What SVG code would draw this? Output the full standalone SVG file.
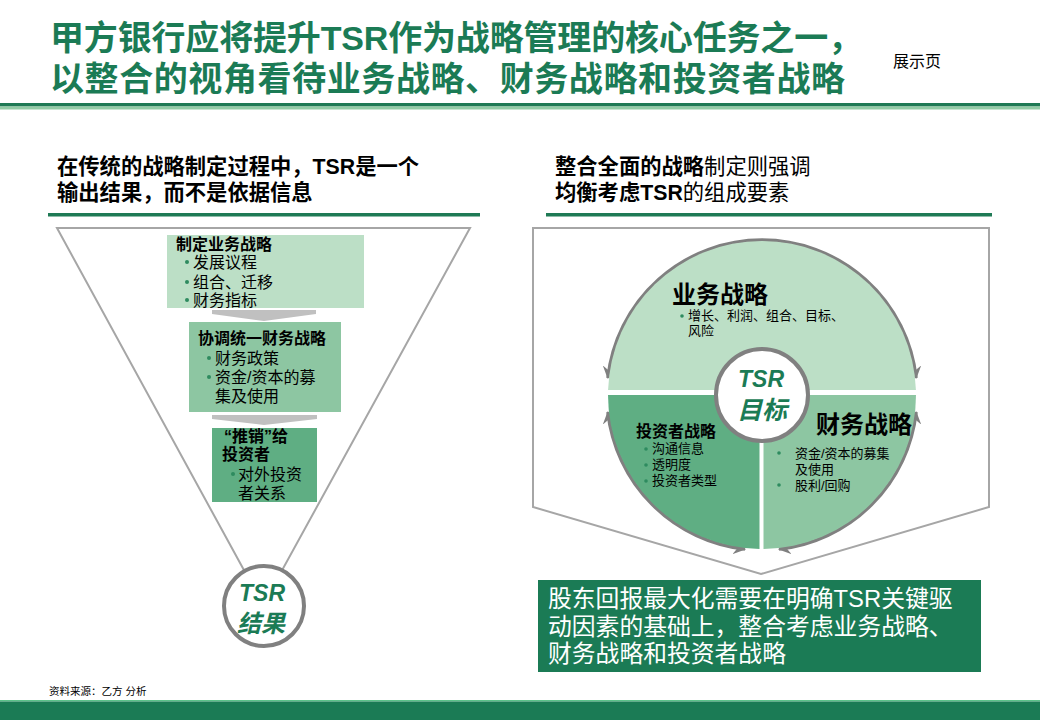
<svg xmlns="http://www.w3.org/2000/svg" width="1040" height="720" viewBox="0 0 1040 720">
<defs>
<style>
text{font-family:"Liberation Sans","Noto Sans CJK SC",sans-serif;}
.title{font-size:34px;font-weight:bold;fill:#1b7b55;}
.sub{font-size:21.3px;fill:#000;}
.b{font-weight:bold;}
.bt{font-size:16px;font-weight:bold;fill:#000;}
.bl{font-size:16px;fill:#000;}
.sm{font-size:13px;fill:#000;}
.dot{fill:#2e8b5f;}
.frame{fill:none;stroke:#a6a6a6;stroke-width:2;}
.chev{fill:#c0c0c0;}
.arc{fill:none;stroke:#808080;stroke-width:3.5;marker-start:url(#ah);marker-end:url(#ah);}
.tsr{font-style:italic;font-weight:bold;fill:#1b7b55;text-anchor:middle;}
</style>
<marker id="ah" viewBox="0 0 12 12" refX="11" refY="6" markerWidth="13" markerHeight="13" markerUnits="userSpaceOnUse" orient="auto-start-reverse">
<path d="M0,0 L12,6 L0,12 L4,6 Z" fill="#808080"/>
</marker>
</defs>
<rect width="1040" height="720" fill="#fff"/>

<!-- header -->
<g id="header">
<text class="title" x="50" y="50" textLength="812" lengthAdjust="spacing">甲方银行应将提升TSR作为战略管理的核心任务之一，</text>
<text class="title" x="50" y="91" textLength="795" lengthAdjust="spacing">以整合的视角看待业务战略、财务战略和投资者战略</text>
<text x="893" y="67" font-size="16" fill="#000">展示页</text>
<rect x="0" y="103" width="1040" height="3.5" fill="#1f7a55"/>
<rect x="0" y="106.5" width="1040" height="3" fill="#93cca6"/>
</g>

<!-- left subtitle -->
<g id="left-heading">
<text class="sub b" x="57" y="174">在传统的战略制定过程中，TSR是一个</text>
<text class="sub b" x="57" y="200">输出结果，而不是依据信息</text>
<rect x="48" y="213" width="432" height="3.5" fill="#1f7a55"/>
</g>

<!-- right subtitle -->
<g id="right-heading">
<text class="sub" x="555" y="174"><tspan class="b">整合全面的战略</tspan>制定则强调</text>
<text class="sub" x="555" y="200"><tspan class="b">均衡考虑TSR</tspan>的组成要素</text>
<rect x="546" y="213" width="446" height="3.5" fill="#1f7a55"/>
</g>

<!-- left funnel -->
<polygon class="frame" points="57,228 470,228 263,605"/>

<!-- right frame -->
<polygon class="frame" points="533,228 989,228 989,507 761,574 533,507" stroke-width="2.5"/>

<g id="connectors">
<polygon class="chev" points="212,310 316,310 316,314 264,321 212,314"/>
<polygon class="chev" points="212,415 317,415 317,419 264,425 212,419"/>
<path class="arc" d="M607.94,378 A155,155 0 0 1 916.06,378"/>
<path class="arc" d="M607.94,412 A155,155 0 0 0 745,549.06"/>
<path class="arc" d="M779,549.06 A155,155 0 0 0 916.06,412"/>
</g>

<g id="box-business">
<rect x="167" y="235" width="197" height="73" fill="#bcdfc6"/>
<text class="bt" x="176" y="250">制定业务战略</text>
<circle class="dot" cx="187" cy="262" r="2"/>
<text class="bl" x="193" y="268">发展议程</text>
<circle class="dot" cx="187" cy="282" r="2"/>
<text class="bl" x="193" y="288">组合、迁移</text>
<circle class="dot" cx="187" cy="300" r="2"/>
<text class="bl" x="193" y="306">财务指标</text>
</g>

<g id="box-finance">
<rect x="189" y="322" width="152" height="90" fill="#8dc6a2"/>
<text class="bt" x="198" y="344">协调统一财务战略</text>
<circle class="dot" cx="209" cy="358" r="2"/>
<text class="bl" x="215" y="364">财务政策</text>
<circle class="dot" cx="209" cy="377" r="2"/>
<text class="bl" x="215" y="383">资金/资本的募</text>
<text class="bl" x="215" y="402">集及使用</text>
</g>

<g id="box-investor">
<rect x="212" y="428" width="105" height="74" fill="#5fae83"/>
<text class="bt" x="224" y="442">“推销”给</text>
<text class="bt" x="222" y="460">投资者</text>
<circle class="dot" cx="233" cy="474" r="2" fill="#3d8f63"/>
<text class="bl" x="238" y="480">对外投资</text>
<text class="bl" x="238" y="499">者关系</text>
</g>

<g id="tsr-result">
<circle cx="264" cy="606" r="40" fill="#fff" stroke="#808080" stroke-width="4"/>
<text class="tsr" x="262" y="601" font-size="23">TSR</text>
<text class="tsr" x="261" y="632" font-size="24">结果</text>
</g>

<g id="seg-business">
<path d="M608.08,390 A154,154 0 0 1 915.92,390 Z" fill="#bcdfc6"/>
<text x="672" y="303" font-size="24" font-weight="bold" fill="#000">业务战略</text>
<circle class="dot" cx="682" cy="316" r="1.8"/>
<text class="sm" x="688" y="320">增长、利润、组合、目标、</text>
<text class="sm" x="688" y="335">风险</text>
</g>

<g id="seg-investor">
<path d="M608,395 L759.5,395 L759.5,548.98 A154,154 0 0 1 608,395 Z" fill="#5fae83"/>
<text x="636" y="437" font-size="16" font-weight="bold" fill="#000">投资者战略</text>
<circle class="dot" cx="646" cy="449" r="1.8" fill="#3d8f63"/>
<text class="sm" x="652" y="453">沟通信息</text>
<circle class="dot" cx="646" cy="465" r="1.8" fill="#3d8f63"/>
<text class="sm" x="652" y="469">透明度</text>
<circle class="dot" cx="646" cy="481" r="1.8" fill="#3d8f63"/>
<text class="sm" x="652" y="485">投资者类型</text>
</g>

<g id="seg-finance">
<path d="M763.5,395 L916,395 A154,154 0 0 1 763.5,548.99 Z" fill="#8dc6a2"/>
<text x="816" y="433" font-size="24" font-weight="bold" fill="#000">财务战略</text>
<circle class="dot" cx="779" cy="453" r="1.8"/>
<text class="sm" x="795" y="458">资金/资本的募集</text>
<text class="sm" x="795" y="474">及使用</text>
<circle class="dot" cx="779" cy="485" r="1.8"/>
<text class="sm" x="795" y="490">股利/回购</text>
</g>

<g id="tsr-target">
<circle cx="762" cy="395" r="46" fill="#fff" stroke="#808080" stroke-width="4"/>
<text class="tsr" x="761" y="387" font-size="23">TSR</text>
<text class="tsr" x="762" y="419" font-size="25">目标</text>
</g>

<g id="conclusion">
<rect x="538" y="580" width="443" height="92" fill="#1b7b55"/>
<text x="548" y="607" font-size="23.8" fill="#fff">股东回报最大化需要在明确TSR关键驱</text>
<text x="548" y="635" font-size="23.8" fill="#fff">动因素的基础上，整合考虑业务战略、</text>
<text x="548" y="662" font-size="23.8" fill="#fff">财务战略和投资者战略</text>
</g>

<g id="footer">
<text x="49" y="695" font-size="10.5" fill="#000">资料来源：乙方 分析</text>
<rect x="0" y="700" width="1040" height="1.5" fill="#5cc28a"/>
<rect x="0" y="701.5" width="1040" height="18.5" fill="#1b7b55"/>
</g>
</svg>
